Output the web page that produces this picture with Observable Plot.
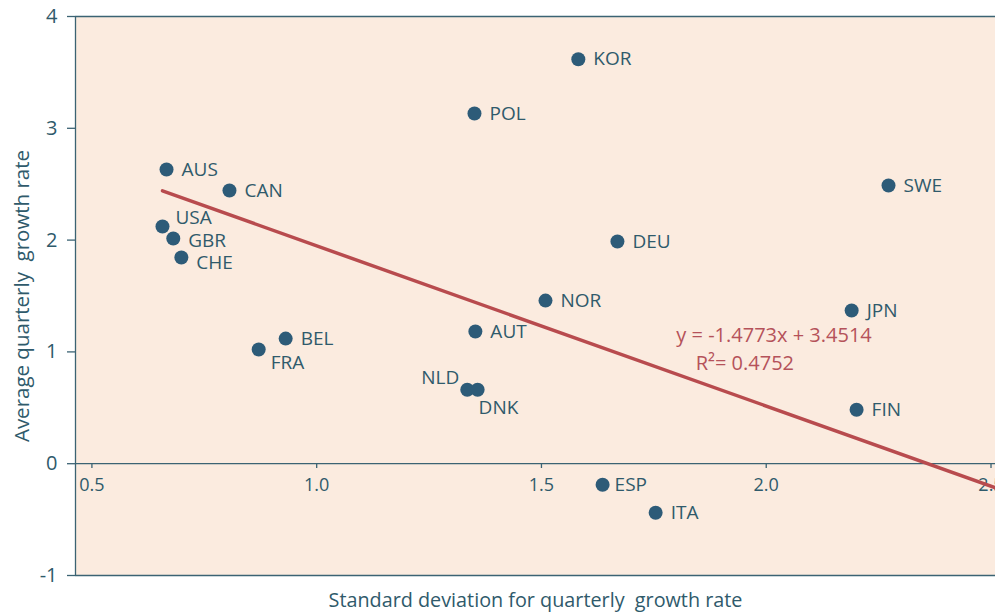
<!DOCTYPE html>
<html><head><meta charset="utf-8">
<script src="https://cdn.jsdelivr.net/npm/d3@7"></script>
<script src="https://cdn.jsdelivr.net/npm/@observablehq/plot@0.6"></script>
<style>html,body{margin:0;padding:0;background:#fff;overflow:hidden;} svg{display:block;}</style>
</head><body><div id="chart"></div>
<script>
// ---- data ----
const countries = ["KOR","POL","AUS","CAN","SWE","USA","GBR","CHE","DEU","NOR","JPN","AUT","BEL","FRA","NLD","DNK","FIN","ESP","ITA"];
const stdDev    = [1.582,1.351,0.666,0.806,2.272,0.657,0.681,0.699,1.669,1.509,2.190,1.353,0.931,0.871,1.335,1.358,2.201,1.636,1.754];
const avgGrowth = [3.617,3.133,2.632,2.444,2.489,2.122,2.014,1.844,1.987,1.459,1.370,1.182,1.119,1.021,0.662,0.662,0.483,-0.188,-0.439];
const xTicks = [0.5, 1.0, 1.5, 2.0, 2.5];
const yTicks = [-1, 0, 1, 2, 3, 4];
const trendX = [0.657, 2.51];
const trendY = [2.44, -0.215];
const equationLines = ["y = -1.4773x + 3.4514", "R\u00B2= 0.4752"];
const xTitle = "Standard deviation for quarterly  growth rate";
const yTitle = "Average quarterly  growth rate";

// ---- styling / layout ----
const dotColor = "#2d5b78";
const textColor = "#2f5a6b";
const axisColor = "#3b6373";
const trendColor = "#b84b4e";
const eqColor = "#b5525a";
const bg = "#fbebdf";

const rows = countries.map((c, i) => ({code: c, x: stdDev[i], y: avgGrowth[i]}));
const trend = trendX.map((x, i) => ({x, y: trendY[i]}));

// label offsets [dx, dy, anchor]
const labelOffset = {
  USA: [13, -9, "start"], GBR: [15, 2, "start"], CHE: [15, 5, "start"],
  NLD: [-8, -12, "end"], DNK: [1, 18, "start"], FRA: [12, 13, "start"], ESP: [12, 0, "start"]
};
const groups = d3.group(rows, d => (labelOffset[d.code] || [15, 0, "start"]).join("|"));
const labelMarks = [...groups].map(([key, data]) => {
  const [dx, dy, anchor] = key.split("|");
  return Plot.text(data, {x: "x", y: "y", text: "code", dx: +dx, dy: +dy, textAnchor: anchor,
    fill: textColor, fontSize: 19});
});

const xMin = 0.4635, xMax = 2.51;

const chart = Plot.plot({
  width: 995, height: 616,
  marginLeft: 75, marginRight: 0, marginTop: 16, marginBottom: 41,
  style: {fontFamily: "'Open Sans', sans-serif", fontSize: "18px", color: textColor, background: "#fff"},
  x: {domain: [xMin, xMax]},
  y: {domain: [-1, 4]},
  marks: [
    Plot.frame({fill: bg, stroke: null}),
    Plot.ruleY([4, 0, -1], {stroke: axisColor, strokeWidth: 1.3}),
    Plot.ruleX([xMin], {stroke: axisColor, strokeWidth: 1.3}),
    Plot.axisY(yTicks, {tickSize: 8, tickPadding: 10, fontSize: 20, tickFormat: d => String(d),
      stroke: axisColor, fill: textColor, label: null, strokeWidth: 1.3}),
    Plot.axisX(xTicks, {tickSize: 5, tickPadding: 10, dy: -112, fontSize: 18, tickFormat: d3.format(".1f"),
      stroke: axisColor, fill: textColor, label: null, strokeWidth: 1.3}),
    Plot.line(trend, {x: "x", y: "y", stroke: trendColor, strokeWidth: 3.5}),
    Plot.dot(rows, {x: "x", y: "y", r: 7, fill: dotColor, stroke: null}),
    ...labelMarks,
    Plot.text([equationLines[0]], {x: 1.80, y: 1.145, text: d => d, textAnchor: "start", fill: eqColor, fontSize: 20}),
    Plot.text([equationLines[1]], {x: 1.843, y: 0.894, text: d => d, textAnchor: "start", fill: eqColor, fontSize: 20}),
    Plot.text([xTitle], {text: d => d, frameAnchor: "bottom", dy: 31, textAnchor: "middle", fill: textColor, fontSize: 19.8}),
    Plot.text([yTitle], {text: d => d, frameAnchor: "left", dx: -53, rotate: -90, textAnchor: "middle", fill: textColor, fontSize: 20.5})
  ]
});
document.getElementById("chart").appendChild(chart);
</script>
</body></html>
